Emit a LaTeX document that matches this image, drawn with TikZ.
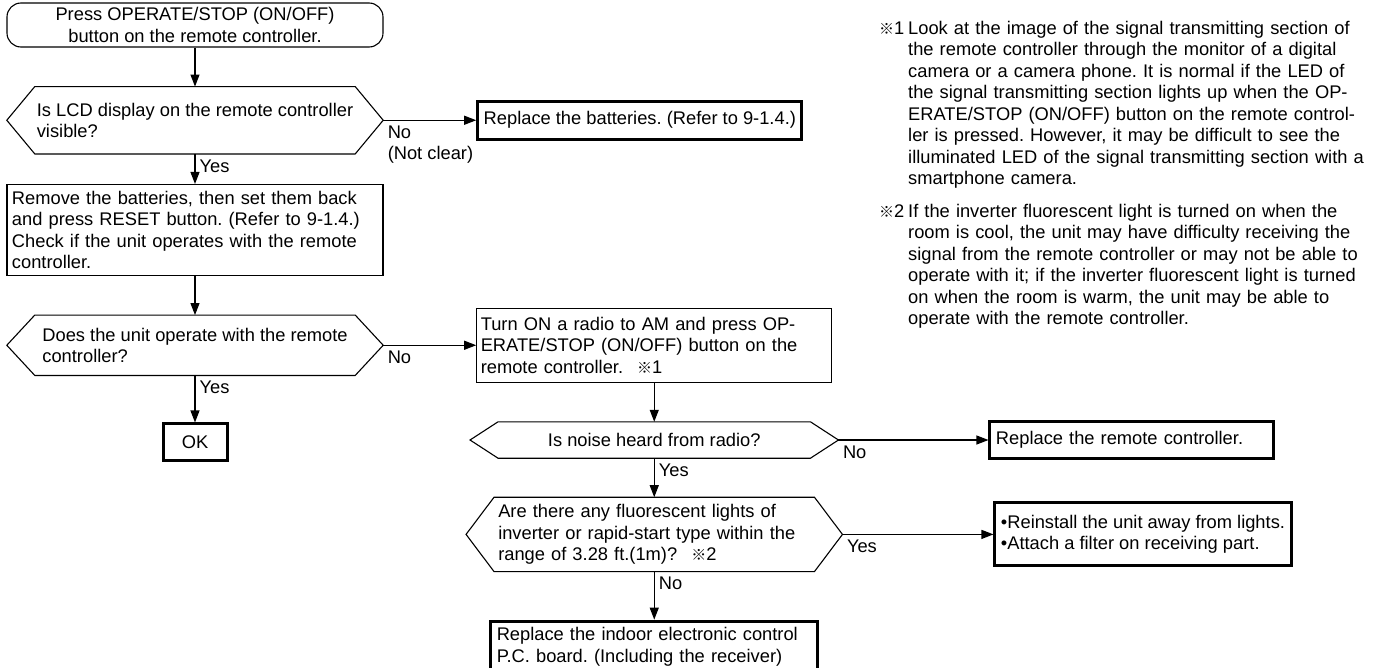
\documentclass[tikz,border=0pt]{standalone}
\usepackage{fontspec}
\setmainfont{Liberation Sans}
\newfontfamily\cjk{Noto Sans CJK JP}
\usepackage{tikz}
\usetikzlibrary{positioning,arrows.meta}
\frenchspacing

\newcommand{\kome}[1]{{\cjk\fontsize{15}{15}\selectfont ※}#1}

\begin{document}
\begin{tikzpicture}[
    x=1pt, y=-1pt,
    font=\fontsize{18.3}{21.5}\selectfont,
    wire/.style={line width=1.1pt},
    box/.style={draw, wire, align=left, inner xsep=6pt, inner ysep=3pt},
    endbox/.style={box, line width=3pt},
    startbox/.style={draw, wire, rounded corners=14pt, minimum width=376pt, minimum height=44pt, align=center, inner sep=1pt},
    decision/.style={minimum width=376pt, inner xsep=28pt, inner ysep=2pt, align=left},
    answer/.style={inner sep=0pt, anchor=north west, xshift=4pt, yshift=-5pt, align=left},
    note/.style={anchor=north west, inner sep=0pt, text width=470pt, align=left},
    arrow/.style={-{Triangle[length=12pt,width=9pt]}, wire}
]
    \useasboundingbox (0,0) rectangle (1379,667);

    % Start
    \node[startbox] (start) at (195,25) {Press OPERATE/STOP (ON/OFF)\\button on the remote controller.};

    % Left column
    \node[decision, minimum height=67pt, below=39pt of start] (lcd) {Is LCD display on the remote controller\\visible?};
    \node[endbox, minimum height=38pt, right=93pt of lcd] (batt) {Replace the batteries. (Refer to 9-1.4.)};
    \node[box, text width=366pt, inner xsep=5pt, minimum height=91pt, below=30pt of lcd] (reset) {Remove the batteries, then set them back\\and press RESET button. (Refer to 9-1.4.)\\Check if the unit operates with the remote\\controller.};
    \node[decision, minimum height=60pt, below=39pt of reset] (works) {Does the unit operate with the remote\\controller?};
    \node[endbox, minimum width=64pt, minimum height=37pt, align=center, inner sep=0pt, below=47pt of works] (ok) {OK};

    % Middle column
    \node[box, text width=347pt, inner xsep=4pt, minimum height=74pt, right=93pt of works] (radio) {Turn ON a radio to AM and press OP-\\ERATE/STOP (ON/OFF) button on the\\remote controller.\hspace{14pt}\kome{1}};
    \node[decision, minimum width=368pt, minimum height=36pt, align=center, below=39pt of radio] (noise) {Is noise heard from radio?};
    \node[decision, text width=312pt, minimum height=74pt, below=39pt of noise] (lights) {Are there any fluorescent lights of\\inverter or rapid-start type within the\\range of 3.28 ft.(1m)?\hspace{14pt}\kome{2}};
    \node[endbox, text width=315pt, minimum height=51pt, below=48pt of lights] (board) {Replace the indoor electronic control\\P.C. board. (Including the receiver)};

    % Right column
    \node[endbox, text width=272pt, minimum height=37pt, right=150pt of noise] (remote) {Replace the remote controller.};
    \node[endbox, minimum height=63pt, right=151pt of lights] (away) {•Reinstall the unit away from lights.\\•Attach a filter on receiving part.};

    % Notes
    \node[note] (note1) at (908,21) {\llap{\makebox[29pt][l]{\kome{1}}}Look at the image of the signal transmitting section of\\the remote controller through the monitor of a digital\\camera or a camera phone. It is normal if the LED of\\the signal transmitting section lights up when the OP-\\ERATE/STOP (ON/OFF) button on the remote control-\\ler is pressed. However, it may be difficult to see the\\illuminated LED of the signal transmitting section with a\\smartphone camera.};
    \node[note] (note2) at (908,204) {\llap{\makebox[29pt][l]{\kome{2}}}If the inverter fluorescent light is turned on when the\\room is cool, the unit may have difficulty receiving the\\signal from the remote controller or may not be able to\\operate with it; if the inverter fluorescent light is turned\\on when the room is warm, the unit may be able to\\operate with the remote controller.};

    % Decision outlines
    \foreach \d in {lcd,works,noise,lights}
        \draw[wire] ([xshift=28pt]\d.north west) -- ([xshift=-28pt]\d.north east) -- (\d.east)
            -- ([xshift=-28pt]\d.south east) -- ([xshift=28pt]\d.south west) -- (\d.west) -- cycle;

    % Arrows
    \draw[arrow] (start) -- (lcd);
    \draw[arrow] (lcd.east) -- node[answer, pos=0] {No\\(Not clear)} (batt.west);
    \draw[arrow] (lcd) -- node[answer, pos=0] {Yes} (reset);
    \draw[arrow] (reset) -- (works);
    \draw[arrow] (works.east) -- node[answer, pos=0] {No} (radio.west);
    \draw[arrow] (works) -- node[answer, pos=0] {Yes} (ok);
    \draw[arrow] (radio) -- (noise);
    \draw[arrow] (noise.east) -- node[answer, pos=0] {No} (remote.west);
    \draw[arrow] (noise) -- node[answer, pos=0] {Yes} (lights);
    \draw[arrow] (lights.east) -- node[answer, pos=0] {Yes} (away.west);
    \draw[arrow] (lights) -- node[answer, pos=0] {No} (board);

\end{tikzpicture}
\end{document}
